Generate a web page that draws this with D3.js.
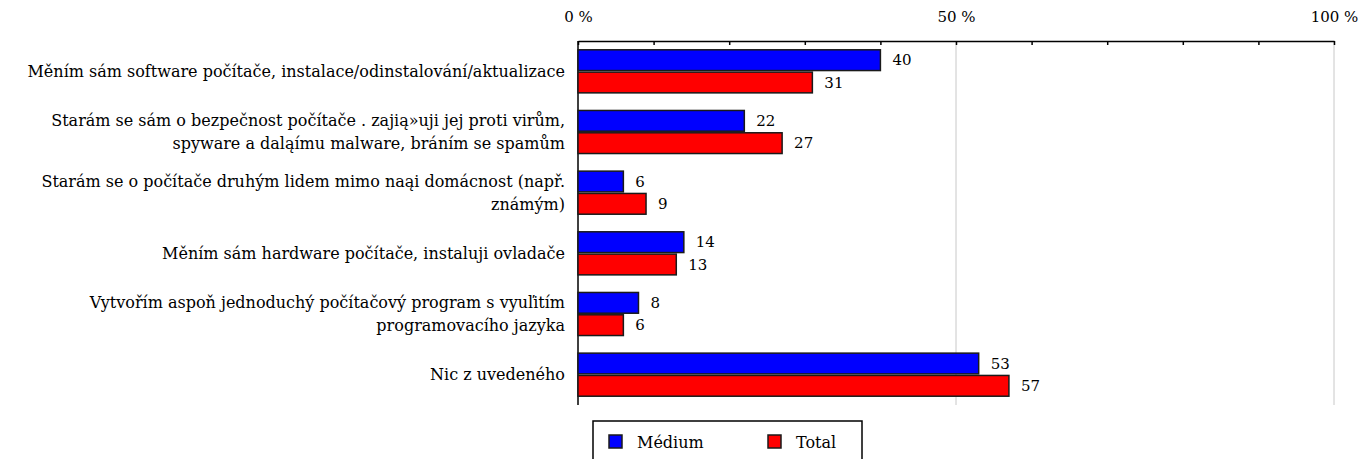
<!DOCTYPE html>
<html>
<head>
<meta charset="utf-8">
<script src="https://cdn.jsdelivr.net/npm/d3@7"></script>
<style>
  body { margin: 0; background: #fff; }
  text { font-family: "DejaVu Serif", serif; fill: #000; }
</style>
</head>
<body>
<div class="bar-chart"></div>
<script>
// categories, one line break where the original wraps
var categories = [
    "Měním sám software počítače, instalace/odinstalování/aktualizace",
    "Starám se sám o bezpečnost počítače . zajią»uji jej proti virům,\nspyware a daląímu malware, bráním se spamům",
    "Starám se o počítače druhým lidem mimo naąi domácnost (např.\nznámým)",
    "Měním sám hardware počítače, instaluji ovladače",
    "Vytvořím aspoň jednoduchý počítačový program s vyuľitím\nprogramovacího jazyka",
    "Nic z uvedeného"
];
var seriesNames = ["Médium", "Total"];
var medium = [40, 22, 6, 14, 8, 53];
var total = [31, 27, 9, 13, 6, 57];
var tickValues = [0, 10, 20, 30, 40, 50, 60, 70, 80, 90, 100];
var tickLabels = {0: "0 %", 50: "50 %", 100: "100 %"};

var colors = ["#0000ff", "#ff0000"];

var margin = {top: 41, right: 35, bottom: 54, left: 578},
    W = 1369, H = 459,
    width = W - margin.left - margin.right,
    height = H - margin.top - margin.bottom;

var svg = d3.select(".bar-chart").append("svg")
    .attr("width", W)
    .attr("height", H)
    .append("g")
    .attr("transform", "translate(" + margin.left + "," + margin.top + ")");

var x = d3.scaleLinear().domain([0, 100]).range([0, width]);
var y = d3.scaleBand().domain(d3.range(categories.length)).range([0, height]).paddingInner(0.29).paddingOuter(0.145);
var y1 = d3.scaleBand().domain([0, 1]).range([0, y.bandwidth()]).paddingInner(0.07);

// gridlines at the labelled ticks only
svg.selectAll(".grid")
    .data([50, 100])
    .enter().append("line")
    .attr("class", "grid")
    .attr("x1", function (d) { return x(d); })
    .attr("x2", function (d) { return x(d); })
    .attr("y1", 0)
    .attr("y2", height)
    .style("stroke", "#c8c8c8")
    .style("stroke-width", 1);

// top axis
var xAxis = d3.axisTop(x)
    .tickValues(tickValues)
    .tickSizeInner(-4)
    .tickSizeOuter(0)
    .tickFormat(function (d) { return tickLabels[d] || ""; });

var gx = svg.append("g").attr("class", "x axis").call(xAxis);
gx.select(".domain").style("stroke", "#000").style("stroke-width", 1.5);
gx.selectAll(".tick line").style("stroke", "#000").style("stroke-width", 1.5);
gx.selectAll(".tick text")
    .attr("y", -19)
    .style("font-size", "15px")
    .style("font-family", "DejaVu Serif, serif");

// left axis line
svg.append("line")
    .attr("x1", 0).attr("x2", 0)
    .attr("y1", 0).attr("y2", height)
    .style("stroke", "#000")
    .style("stroke-width", 1.5);

var groups = svg.selectAll(".cat")
    .data(categories)
    .enter().append("g")
    .attr("class", "cat")
    .attr("transform", function (d, i) { return "translate(0," + y(i) + ")"; });

// category labels
groups.append("text")
    .attr("x", -13)
    .attr("text-anchor", "end")
    .style("font-size", "16px")
    .each(function (d) {
        var lines = d.split("\n");
        var t = d3.select(this);
        var mid = y.bandwidth() / 2;
        lines.forEach(function (line, k) {
            t.append("tspan")
                .attr("x", -13)
                .attr("y", mid + (k - (lines.length - 1) / 2) * 23)
                .attr("dy", "0.35em")
                .text(line);
        });
    });

var series = [medium, total];
series.forEach(function (vals, s) {
    groups.append("rect")
        .attr("x", 0)
        .attr("y", y1(s))
        .attr("width", function (d, i) { return x(vals[i]); })
        .attr("height", y1.bandwidth())
        .style("fill", colors[s])
        .style("stroke", "#1a1a1a")
        .style("stroke-width", 1.5);

    groups.append("text")
        .attr("x", function (d, i) { return x(vals[i]) + 12; })
        .attr("y", y1(s) + y1.bandwidth() / 2)
        .attr("dy", "0.35em")
        .style("font-size", "15px")
        .text(function (d, i) { return vals[i]; });
});

// legend
var legend = d3.select("svg").append("g")
    .attr("transform", "translate(593,421)");
legend.append("rect")
    .attr("width", 269).attr("height", 50)
    .style("fill", "#fff")
    .style("stroke", "#000")
    .style("stroke-width", 1.5);
var items = legend.selectAll(".legend")
    .data(seriesNames)
    .enter().append("g")
    .attr("class", "legend")
    .attr("transform", function (d, i) { return "translate(" + (16 + i * 159) + ",14)"; });
items.append("rect")
    .attr("width", 13).attr("height", 13)
    .style("fill", function (d, i) { return colors[i]; })
    .style("stroke", "#1a1a1a")
    .style("stroke-width", 1.5);
items.append("text")
    .attr("x", 28)
    .attr("y", 7)
    .attr("dy", "0.35em")
    .style("font-size", "16px")
    .text(function (d) { return d; });
</script>
</body>
</html>
